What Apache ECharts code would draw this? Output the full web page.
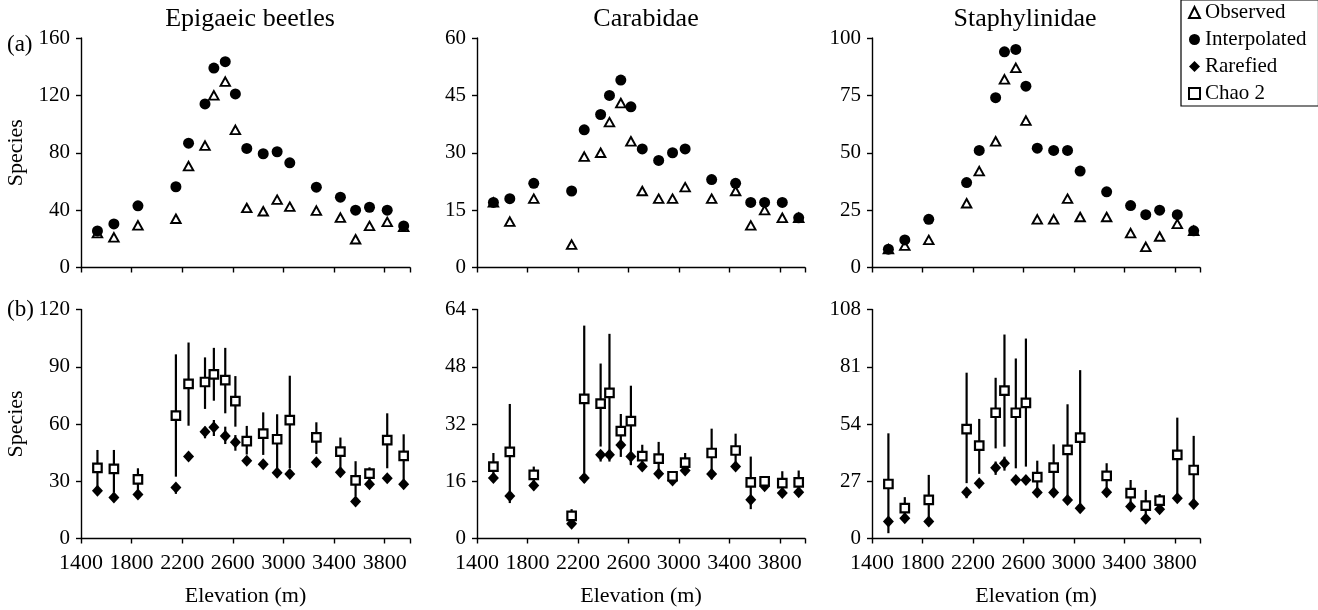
<!DOCTYPE html>
<html><head><meta charset="utf-8">
<script src="https://cdn.jsdelivr.net/npm/echarts@6/dist/echarts.min.js"></script>
<style>html,body{margin:0;padding:0;background:#fff}#c{width:1318px;height:610px}</style>
</head><body><div id="c"></div>
<script>
// ---------- data ----------
const elevation = [1530,1660,1850,2150,2250,2380,2450,2540,2620,2710,2840,2950,3050,3260,3450,3570,3680,3820,3950];
const panelTitles = ['Epigaeic beetles','Carabidae','Staphylinidae'];
const legendNames = ['Observed','Interpolated','Rarefied','Chao 2'];
const xMin = 1400, xMax = 4000, xInterval = 400;
const topYMax = [160, 60, 100];
const topYInterval = [40, 15, 25];
const botYMax = [120, 64, 108];
const botYInterval = [30, 16, 27];

// (a) observed and interpolated richness
const epiObserved     = [24,21,29.4,34,70.7,85,120,129.6,96,41.5,39.2,47.3,42.4,39.7,34.8,19.7,29,31.8,28.3];
const epiInterpolated = [25.5,30.4,43,56.3,86.7,114,139,143.5,121,83,79.3,80.7,73,56,49,40,42,40,29];
const carObserved     = [17,12,18,6,29,30,38,43,33,20,18,18,21,18,20,11,15,13,13];
const carInterpolated = [17,18,22,20,36,40,45,49,42,31,28,30,31,23,22,17,17,17,13];
const staObserved     = [8,9.5,12,28,42,55,82,87,64,21,21,30,22,22,15,9,13.5,19,16];
const staInterpolated = [8,12,21,37,51,74,94,95,79,52,51,51,42,33,27,23,25,23,16];

// (b) rarefied richness and Chao 2 with confidence limits
const epiChao   = [37,36.5,31,64.4,81,82,86,83,72,51,55,52,62,53,45.5,30.5,34,51.6,43.3];
const epiChaoLo = [27,24,25,32.4,59.1,67.9,72.2,65.6,58.6,44,43.8,36.8,36.8,44.3,36.8,22,30.7,36.8,30.7];
const epiChaoHi = [46.4,46.4,36.8,96.5,102.7,94.9,99.9,99.9,85.1,59,66.1,65.1,85.3,60.9,52.9,40.5,37.3,65.6,54.6];
const epiRar    = [25,21.5,23,26.7,43,56,58.3,53.7,50.4,40.8,38.9,34.5,33.8,40,34.7,19.4,28.4,31.6,28.4];
const epiRarLo  = [25,21.5,23,23.4,43,52.5,53.7,49.5,46,40.8,38.9,34.5,33.8,40,34.7,19.4,28.4,31.6,28.4];
const epiRarHi  = [25,21.5,23,26.7,43,58.6,62.1,58.6,54.2,40.8,38.9,34.5,33.8,40,34.7,19.4,28.4,31.6,28.4];

const carChao   = [20.1,24.2,17.8,6.3,39,37.7,40.7,30,32.8,23,22.3,17.4,21.2,23.9,24.6,15.7,16,15.5,15.7];
const carChaoLo = [17.5,12,15.5,4.5,18.3,25.7,22.9,26,20.6,20.5,18.5,16.5,19.5,18.5,20.5,11,14.8,13,13];
const carChaoHi = [23.9,37.6,20.1,8.2,59.5,48.9,57.2,34.8,42.7,26.2,27,17.4,23.9,30.7,29.3,22.9,17.4,18.8,19];
const carRar    = [16.9,11.9,14.8,4.1,16.9,23.4,23.4,26.1,22.9,20.1,18.1,16.2,19,18,20.1,10.8,14.6,12.7,12.9];
const carRarLo  = [16.9,9.9,14.8,4.1,15.5,21.5,21.5,22.8,20.5,20.1,18.1,16.2,19,16.5,20.1,8.2,14.6,12.7,12.9];
const carRarHi  = [16.9,11.9,14.8,4.1,16.9,23.4,23.4,26.1,22.9,20.1,18.1,16.2,19,18,20.1,10.8,14.6,12.7,12.9];

const staChao   = [25.7,14.3,18.2,51.6,43.8,59.3,69.7,59.3,64,28.9,33.4,41.8,47.6,29.5,21.4,15.5,17.9,39.4,32.3];
const staChaoLo = [8,9.6,10,26.1,30.5,42.5,43.3,33.1,33.9,22,22,18.2,14.3,22,15.5,10,14,19,16.3];
const staChaoHi = [49.6,19.5,30,78.2,56.4,75.8,96.2,84.9,94.3,36.7,44.4,63.3,79.4,35.5,27.6,22.9,21,57,48.4];
const staRar    = [8,9.6,8,21.8,26.1,33.4,35.5,27.6,27.6,21.7,21.7,18.2,14.3,21.8,15.1,9.3,13.8,19,16.3];
const staRarLo  = [2.5,9.6,8,19,26.1,30,32,27.6,27.6,21.7,21.7,18.2,14.3,21.8,15.1,9.3,13.8,19,16.3];
const staRarHi  = [8,9.6,8,21.8,26.1,36.3,38.6,27.6,27.6,21.7,21.7,18.2,14.3,21.8,15.1,9.3,13.8,19,16.3];

// ---------- build ----------
const FONT = 'Liberation Serif';
const topData = [[epiObserved, epiInterpolated],[carObserved, carInterpolated],[staObserved, staInterpolated]];
const botData = [
  [epiChao, epiChaoLo, epiChaoHi, epiRar, epiRarLo, epiRarHi],
  [carChao, carChaoLo, carChaoHi, carRar, carRarLo, carRarHi],
  [staChao, staChaoLo, staChaoHi, staRar, staRarLo, staRarHi]
];
const lefts = [81, 477, 872];
const widths = [329, 328, 328];
const zip = (a) => elevation.map((e, i) => [e, a[i]]);
const zipR = (lo, hi) => elevation.map((e, i) => [e, lo[i], hi[i]]);

const grids = [], xAxes = [], yAxes = [], series = [];
const axisLine = {show: true, lineStyle: {color: '#000', width: 1.4}};
const axisTick = {show: true, inside: false, length: 5, lineStyle: {color: '#000', width: 1.4}};

function errRender(params, api) {
  const x = api.value(0), lo = api.value(1), hi = api.value(2);
  if (Math.abs(hi - lo) < 1e-6) return null;
  const p1 = api.coord([x, lo]), p2 = api.coord([x, hi]);
  return {type: 'line', shape: {x1: p1[0], y1: p1[1], x2: p2[0], y2: p2[1]},
          style: {stroke: '#000', lineWidth: 2.2}};
}

for (let row = 0; row < 2; row++) {
  for (let c = 0; c < 3; c++) {
    const idx = row * 3 + c;
    grids.push({left: lefts[c], width: widths[c], top: row === 0 ? 38 : 309.5, height: row === 0 ? 229.5 : 229,
                containLabel: false, outerBoundsMode: 'none'});
    xAxes.push({
      type: 'value', gridIndex: idx, min: xMin, max: xMax, interval: xInterval,
      axisLine, axisTick, splitLine: {show: false},
      axisLabel: {show: row === 1, margin: 14, color: '#000', fontFamily: FONT, fontSize: 22,
                  formatter: v => (v === xMax ? '' : String(v))},
      name: row === 1 ? 'Elevation (m)' : '', nameLocation: 'middle', nameGap: 47,
      nameTextStyle: {color: '#000', fontFamily: FONT, fontSize: 22}
    });
    yAxes.push({
      type: 'value', gridIndex: idx, min: 0,
      max: row === 0 ? topYMax[c] : botYMax[c],
      interval: row === 0 ? topYInterval[c] : botYInterval[c],
      axisLine, axisTick, splitLine: {show: false},
      axisLabel: {margin: 11, color: '#000', fontFamily: FONT, fontSize: 21},
      name: c === 0 ? 'Species' : '', nameLocation: 'middle', nameGap: 54,
      nameTextStyle: {color: '#000', fontFamily: FONT, fontSize: 22}
    });
    if (row === 0) {
      series.push({
        name: 'Observed', type: 'scatter', xAxisIndex: idx, yAxisIndex: idx, z: 3,
        symbol: 'triangle', symbolSize: [9.5, 8.5], data: zip(topData[c][0]),
        itemStyle: {color: '#fff', borderColor: '#000', borderWidth: 1.9, opacity: 1}
      });
      series.push({
        name: 'Interpolated', type: 'scatter', xAxisIndex: idx, yAxisIndex: idx, z: 4,
        symbol: 'circle', symbolSize: 11, data: zip(topData[c][1]),
        itemStyle: {color: '#000', opacity: 1}
      });
    } else {
      const d = botData[c];
      series.push({
        name: 'Chao 2 CI', type: 'custom', xAxisIndex: idx, yAxisIndex: idx, z: 2,
        renderItem: errRender, encode: {x: 0, y: [1, 2]}, data: zipR(d[1], d[2])
      });
      series.push({
        name: 'Rarefied CI', type: 'custom', xAxisIndex: idx, yAxisIndex: idx, z: 2,
        renderItem: errRender, encode: {x: 0, y: [1, 2]}, data: zipR(d[4], d[5])
      });
      series.push({
        name: 'Rarefied', type: 'scatter', xAxisIndex: idx, yAxisIndex: idx, z: 3,
        symbol: 'diamond', symbolSize: [11, 12], data: zip(d[3]),
        itemStyle: {color: '#000', opacity: 1}
      });
      series.push({
        name: 'Chao 2', type: 'scatter', xAxisIndex: idx, yAxisIndex: idx, z: 4,
        symbol: 'rect', symbolSize: 8.5, data: zip(d[0]),
        itemStyle: {color: '#fff', borderColor: '#000', borderWidth: 2.2, opacity: 1}
      });
    }
  }
}

const titleCenters = [245, 641, 1020];
const option = {
  animation: false,
  backgroundColor: '#fff',
  title: panelTitles.map((t, i) => ({
    text: t, left: titleCenters[i], top: 1, textAlign: 'center',
    textStyle: {fontFamily: FONT, fontSize: 26, fontWeight: 'normal', color: '#000'}
  })),
  legend: {
    data: legendNames, orient: 'vertical', left: 1181, top: 0,
    padding: [2, 12, 2, 7], itemGap: 6, itemWidth: 11, itemHeight: 11,
    selectedMode: false, borderColor: '#000', borderWidth: 1.2,
    textStyle: {fontFamily: FONT, fontSize: 21, color: '#000'}
  },
  graphic: [
    {type: 'text', left: 7, top: 33, style: {text: '(a)', font: '23px "Liberation Serif"', fill: '#000'}},
    {type: 'text', left: 7, top: 298, style: {text: '(b)', font: '23px "Liberation Serif"', fill: '#000'}}
  ],
  grid: grids, xAxis: xAxes, yAxis: yAxes, series
};
const chart = echarts.init(document.getElementById('c'), null, {renderer: 'canvas'});
chart.setOption(option);
</script></body></html>
